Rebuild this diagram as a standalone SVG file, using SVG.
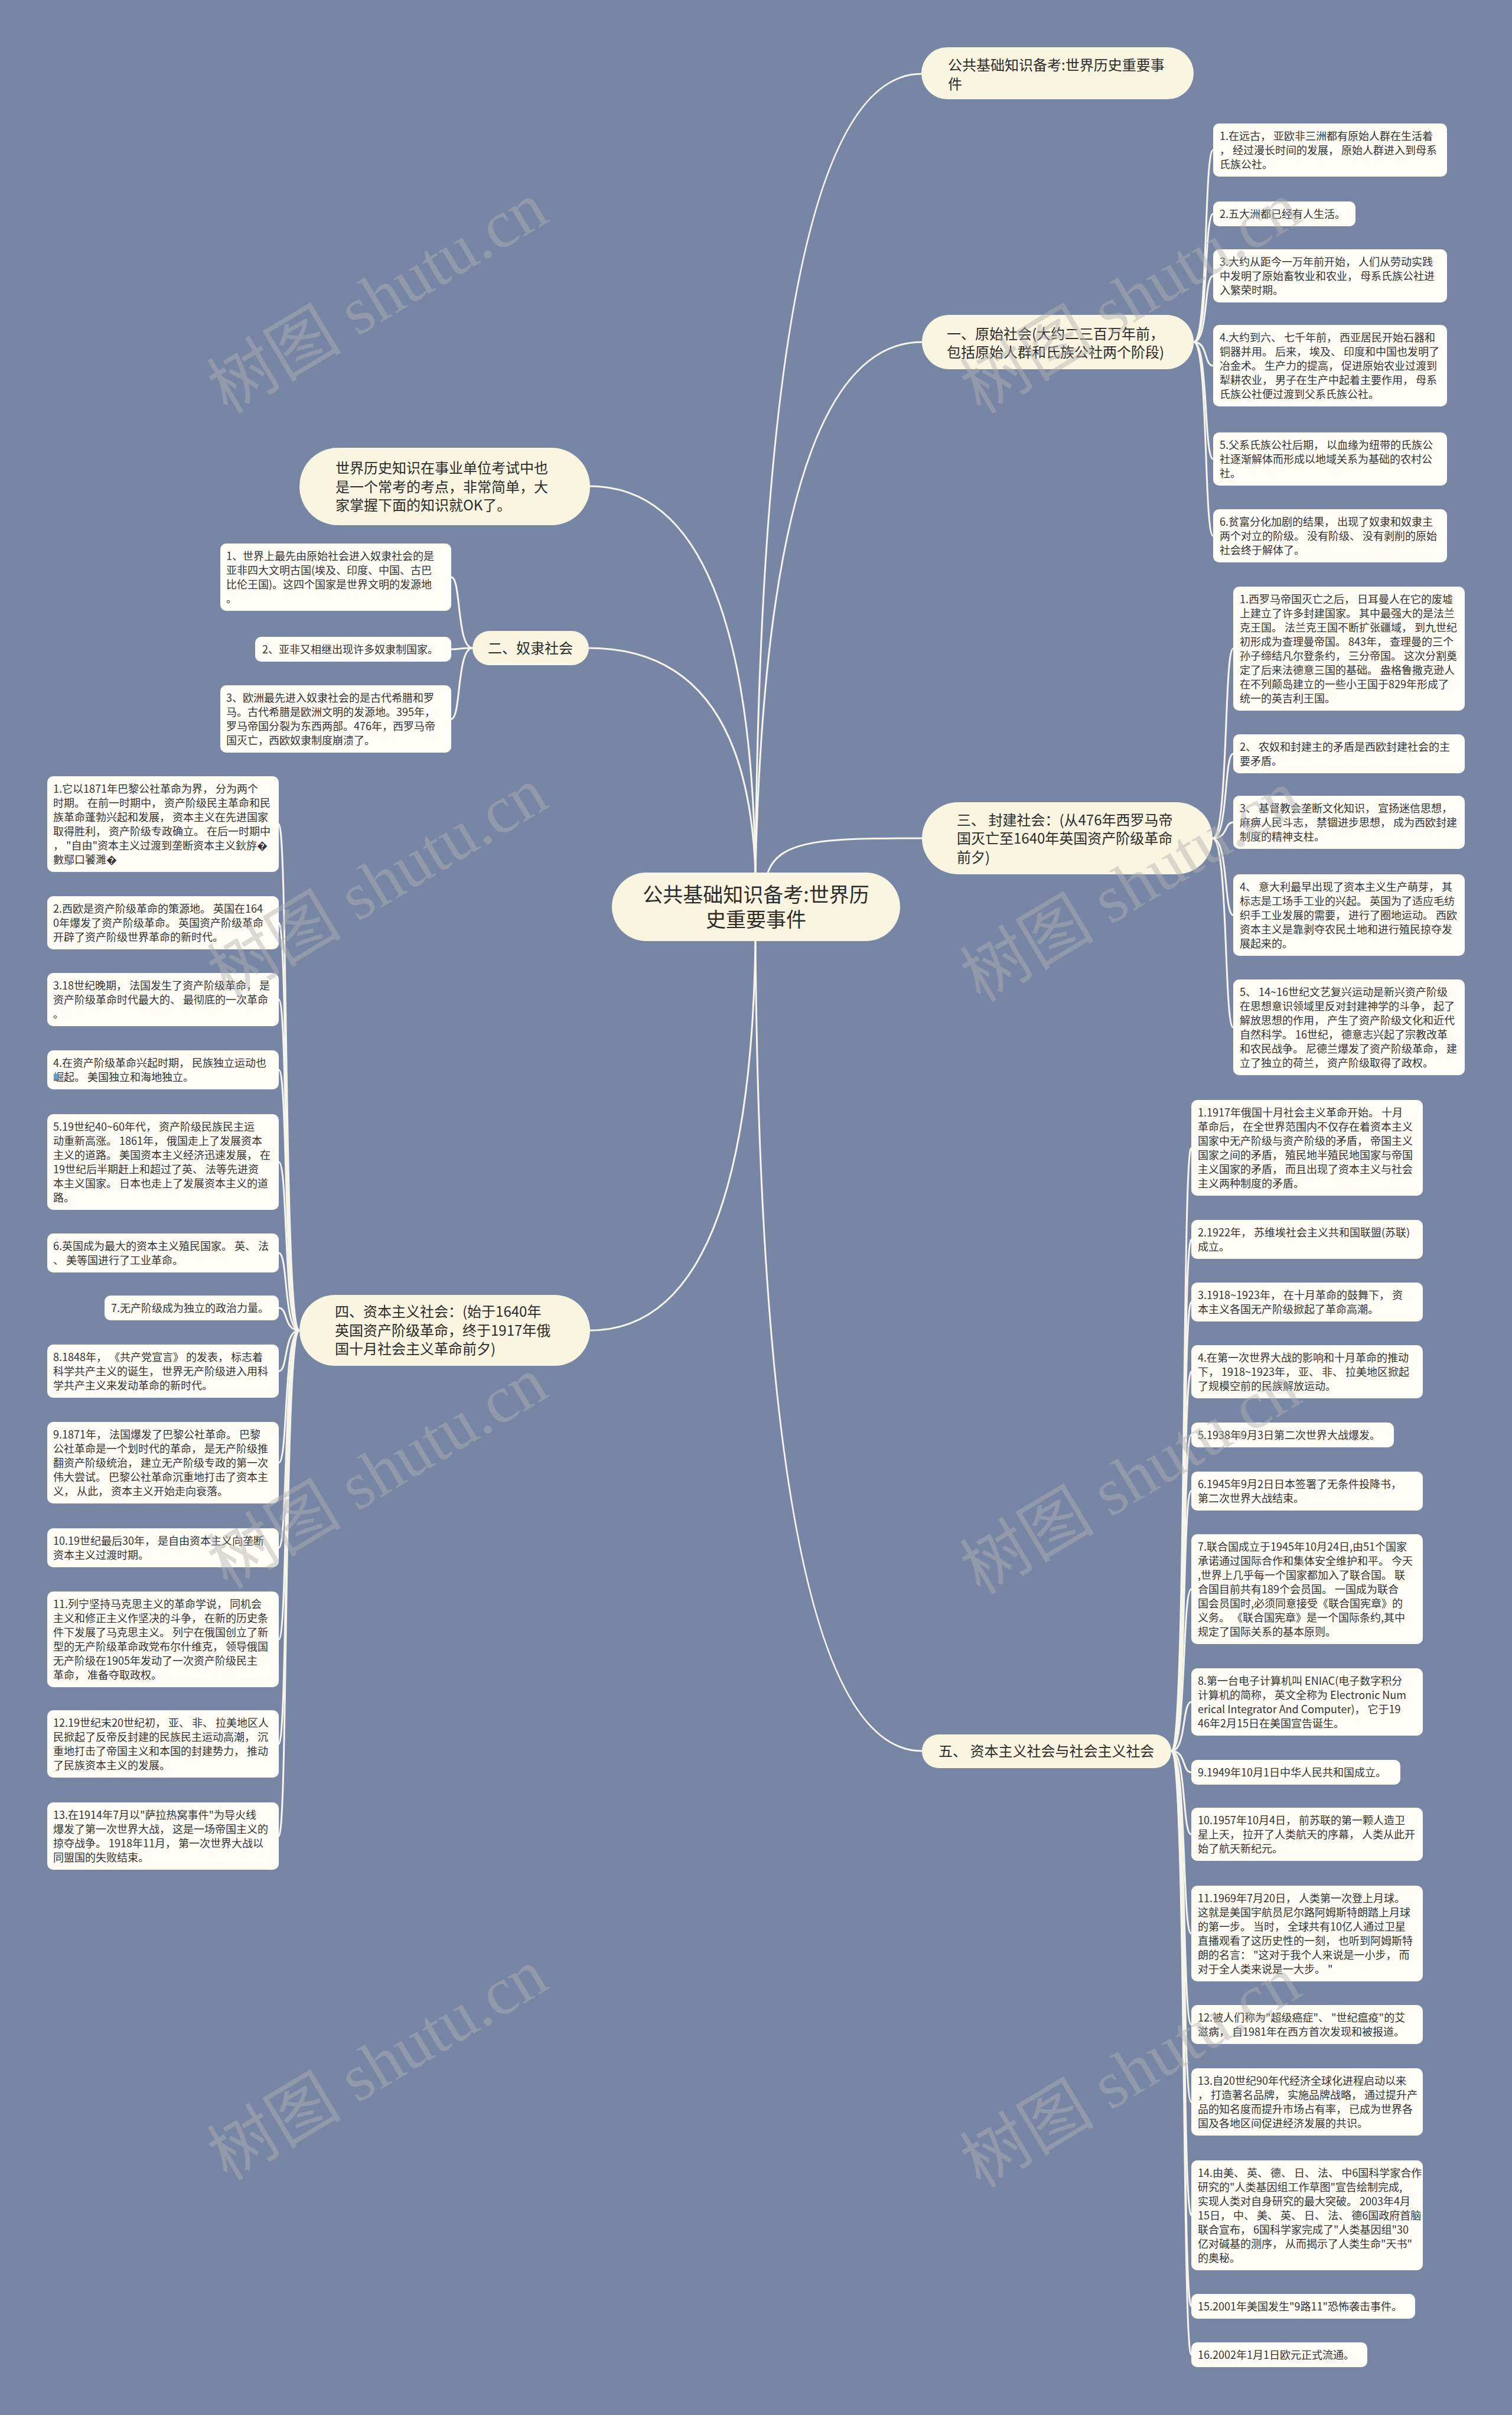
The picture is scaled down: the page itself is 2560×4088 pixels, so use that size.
<svg xmlns="http://www.w3.org/2000/svg" width="2560" height="4088" viewBox="0 0 2560 4088">
<style>
text{font-family:"Noto Sans CJK SC","Noto Sans",sans-serif;fill:#2b2b2b}
.root rect,.l1 rect{fill:#faf5e0;stroke:none}
.leaf rect{fill:#fffdf6;stroke:none}
.rt{font-size:34px}
.t1{font-size:24px}
.tl{font-size:18px;fill:#333}
.conn path{fill:none;stroke:#f7f4ea;stroke-width:3}
.wm{font-family:"Liberation Serif","Noto Sans CJK SC",serif;font-size:114px;fill:#b0b0b0;opacity:0.45}
</style>
<rect x="0" y="0" width="2560" height="4088" fill="#7886a6"/>
<g id="connectors" class="conn">
<path d="M1279 1477 Q1290 125 1560 125"/>
<path d="M1279 1477 Q1300 579 1561 579"/>
<path d="M1300 1477 C1320 1420 1400 1419 1561 1419"/>
<path d="M1279 1477 Q1270 823 999 823"/>
<path d="M1279 1477 Q1265 1097 997 1097"/>
<path d="M1279 1593 Q1270 2252 999 2252"/>
<path d="M1279 1593 Q1290 2964 1561 2964"/>
<path d="M2021 579 C2046 579 2038 254 2054 254"/>
<path d="M2021 579 C2046 579 2038 362 2054 362"/>
<path d="M2021 579 C2046 579 2038 467 2054 467"/>
<path d="M2021 579 C2046 579 2038 619 2054 619"/>
<path d="M2021 579 C2046 579 2038 777 2054 777"/>
<path d="M2021 579 C2046 579 2038 907 2054 907"/>
<path d="M2053 1419 C2080 1419 2072 1098 2088 1098"/>
<path d="M2053 1419 C2080 1419 2072 1276 2088 1276"/>
<path d="M2053 1419 C2080 1419 2072 1392 2088 1392"/>
<path d="M2053 1419 C2080 1419 2072 1549 2088 1549"/>
<path d="M2053 1419 C2080 1419 2072 1739 2088 1739"/>
<path d="M1983 2964 C2009 2964 2001 1943 2017 1943"/>
<path d="M1983 2964 C2009 2964 2001 2098 2017 2098"/>
<path d="M1983 2964 C2009 2964 2001 2204 2017 2204"/>
<path d="M1983 2964 C2009 2964 2001 2322 2017 2322"/>
<path d="M1983 2964 C2009 2964 2001 2429 2017 2429"/>
<path d="M1983 2964 C2009 2964 2001 2524 2017 2524"/>
<path d="M1983 2964 C2009 2964 2001 2690 2017 2690"/>
<path d="M1983 2964 C2009 2964 2001 2881 2017 2881"/>
<path d="M1983 2964 C2009 2964 2001 3000 2017 3000"/>
<path d="M1983 2964 C2009 2964 2001 3105 2017 3105"/>
<path d="M1983 2964 C2009 2964 2001 3273 2017 3273"/>
<path d="M1983 2964 C2009 2964 2001 3427 2017 3427"/>
<path d="M1983 2964 C2009 2964 2001 3558 2017 3558"/>
<path d="M1983 2964 C2009 2964 2001 3750 2017 3750"/>
<path d="M1983 2964 C2009 2964 2001 3904 2017 3904"/>
<path d="M1983 2964 C2009 2964 2001 3986 2017 3986"/>
<path d="M507 2252 C480 2252 488 1395 472 1395"/>
<path d="M507 2252 C480 2252 488 1562 472 1562"/>
<path d="M507 2252 C480 2252 488 1692 472 1692"/>
<path d="M507 2252 C480 2252 488 1811 472 1811"/>
<path d="M507 2252 C480 2252 488 1967 472 1967"/>
<path d="M507 2252 C480 2252 488 2121 472 2121"/>
<path d="M507 2252 C480 2252 488 2214 472 2214"/>
<path d="M507 2252 C480 2252 488 2321 472 2321"/>
<path d="M507 2252 C480 2252 488 2476 472 2476"/>
<path d="M507 2252 C480 2252 488 2620 472 2620"/>
<path d="M507 2252 C480 2252 488 2775 472 2775"/>
<path d="M507 2252 C480 2252 488 2952 472 2952"/>
<path d="M507 2252 C480 2252 488 3108 472 3108"/>
<path d="M800 1097 C773 1097 781 977 764 977"/>
<path d="M800 1097 C773 1097 781 1099 764 1099"/>
<path d="M800 1097 C773 1097 781 1217 764 1217"/>
</g>
<g id="root" class="root"><rect x="1036" y="1477" width="488" height="116" rx="58"/><text class="rt" text-anchor="middle"><tspan x="1280" y="1527">公共基础知识备考:世界历</tspan><tspan x="1280" y="1569">史重要事件</tspan></text></g>
<g id="top" class="l1"><rect x="1560" y="80" width="461" height="88" rx="44"/><text class="t1"><tspan x="1605" y="119">公共基础知识备考:世界历史重要事</tspan><tspan x="1605" y="151">件</tspan></text></g>
<g id="b1" class="l1"><rect x="1561" y="533" width="460" height="92" rx="46"/><text class="t1"><tspan x="1603" y="574">一、原始社会(大约二三百万年前，</tspan><tspan x="1603" y="605">包括原始人群和氏族公社两个阶段)</tspan></text></g>
<g id="b3" class="l1"><rect x="1561" y="1358" width="492" height="122" rx="61"/><text class="t1"><tspan x="1620" y="1397">三、 封建社会：(从476年西罗马帝</tspan><tspan x="1620" y="1428">国灭亡至1640年英国资产阶级革命</tspan><tspan x="1620" y="1460">前夕)</tspan></text></g>
<g id="b5" class="l1"><rect x="1561" y="2936" width="422" height="57" rx="28"/><text class="t1"><tspan x="1589" y="2973">五、 资本主义社会与社会主义社会</tspan></text></g>
<g id="b4" class="l1"><rect x="507" y="2192" width="492" height="120" rx="60"/><text class="t1"><tspan x="567" y="2229">四、资本主义社会：(始于1640年</tspan><tspan x="567" y="2261">英国资产阶级革命，终于1917年俄</tspan><tspan x="567" y="2292">国十月社会主义革命前夕)</tspan></text></g>
<g id="b2" class="l1"><rect x="800" y="1068" width="197" height="58" rx="29"/><text class="t1" text-anchor="middle"><tspan x="898" y="1106">二、奴隶社会</tspan></text></g>
<g id="intro" class="l1"><rect x="507" y="758" width="492" height="131" rx="65"/><text class="t1"><tspan x="568" y="801">世界历史知识在事业单位考试中也</tspan><tspan x="568" y="833">是一个常考的考点，非常简单，大</tspan><tspan x="568" y="864">家掌握下面的知识就OK了。</tspan></text></g>
<g id="b1-1" class="leaf"><rect x="2054" y="209" width="396" height="90" rx="10"/><text class="tl"><tspan x="2065" y="237">1.在远古， 亚欧非三洲都有原始人群在生活着</tspan><tspan x="2065" y="261">， 经过漫长时间的发展， 原始人群进入到母系</tspan><tspan x="2065" y="285">氏族公社。</tspan></text></g>
<g id="b1-2" class="leaf"><rect x="2054" y="341" width="241" height="42" rx="10"/><text class="tl"><tspan x="2065" y="369">2.五大洲都已经有人生活。</tspan></text></g>
<g id="b1-3" class="leaf"><rect x="2054" y="422" width="396" height="90" rx="10"/><text class="tl"><tspan x="2065" y="450">3.大约从距今一万年前开始， 人们从劳动实践</tspan><tspan x="2065" y="474">中发明了原始畜牧业和农业， 母系氏族公社进</tspan><tspan x="2065" y="498">入繁荣时期。</tspan></text></g>
<g id="b1-4" class="leaf"><rect x="2054" y="550" width="396" height="138" rx="10"/><text class="tl"><tspan x="2065" y="578">4.大约到六、 七千年前， 西亚居民开始石器和</tspan><tspan x="2065" y="602">铜器并用。 后来， 埃及、 印度和中国也发明了</tspan><tspan x="2065" y="626">冶金术。 生产力的提高， 促进原始农业过渡到</tspan><tspan x="2065" y="650">犁耕农业， 男子在生产中起着主要作用， 母系</tspan><tspan x="2065" y="674">氏族公社便过渡到父系氏族公社。</tspan></text></g>
<g id="b1-5" class="leaf"><rect x="2054" y="732" width="396" height="90" rx="10"/><text class="tl"><tspan x="2065" y="760">5.父系氏族公社后期， 以血缘为纽带的氏族公</tspan><tspan x="2065" y="784">社逐渐解体而形成以地域关系为基础的农村公</tspan><tspan x="2065" y="808">社。</tspan></text></g>
<g id="b1-6" class="leaf"><rect x="2054" y="862" width="396" height="90" rx="10"/><text class="tl"><tspan x="2065" y="890">6.贫富分化加剧的结果， 出现了奴隶和奴隶主</tspan><tspan x="2065" y="914">两个对立的阶级。 没有阶级、 没有剥削的原始</tspan><tspan x="2065" y="938">社会终于解体了。</tspan></text></g>
<g id="b3-1" class="leaf"><rect x="2088" y="993" width="392" height="210" rx="10"/><text class="tl"><tspan x="2099" y="1021">1.西罗马帝国灭亡之后， 日耳曼人在它的废墟</tspan><tspan x="2099" y="1045">上建立了许多封建国家。 其中最强大的是法兰</tspan><tspan x="2099" y="1069">克王国。 法兰克王国不断扩张疆域， 到九世纪</tspan><tspan x="2099" y="1093">初形成为查理曼帝国。 843年， 查理曼的三个</tspan><tspan x="2099" y="1117">孙子缔结凡尔登条约， 三分帝国。 这次分割奠</tspan><tspan x="2099" y="1141">定了后来法德意三国的基础。 盎格鲁撒克逊人</tspan><tspan x="2099" y="1165">在不列颠岛建立的一些小王国于829年形成了</tspan><tspan x="2099" y="1189">统一的英吉利王国。</tspan></text></g>
<g id="b3-2" class="leaf"><rect x="2088" y="1243" width="392" height="66" rx="10"/><text class="tl"><tspan x="2099" y="1271">2、 农奴和封建主的矛盾是西欧封建社会的主</tspan><tspan x="2099" y="1295">要矛盾。</tspan></text></g>
<g id="b3-3" class="leaf"><rect x="2088" y="1347" width="392" height="90" rx="10"/><text class="tl"><tspan x="2099" y="1375">3、 基督教会垄断文化知识， 宣扬迷信思想，</tspan><tspan x="2099" y="1399">麻痹人民斗志， 禁锢进步思想， 成为西欧封建</tspan><tspan x="2099" y="1423">制度的精神支柱。</tspan></text></g>
<g id="b3-4" class="leaf"><rect x="2088" y="1480" width="392" height="138" rx="10"/><text class="tl"><tspan x="2099" y="1508">4、 意大利最早出现了资本主义生产萌芽， 其</tspan><tspan x="2099" y="1532">标志是工场手工业的兴起。 英国为了适应毛纺</tspan><tspan x="2099" y="1556">织手工业发展的需要， 进行了圈地运动。 西欧</tspan><tspan x="2099" y="1580">资本主义是靠剥夺农民土地和进行殖民掠夺发</tspan><tspan x="2099" y="1604">展起来的。</tspan></text></g>
<g id="b3-5" class="leaf"><rect x="2088" y="1658" width="392" height="162" rx="10"/><text class="tl"><tspan x="2099" y="1686">5、 14~16世纪文艺复兴运动是新兴资产阶级</tspan><tspan x="2099" y="1710">在思想意识领域里反对封建神学的斗争， 起了</tspan><tspan x="2099" y="1734">解放思想的作用， 产生了资产阶级文化和近代</tspan><tspan x="2099" y="1758">自然科学。 16世纪， 德意志兴起了宗教改革</tspan><tspan x="2099" y="1782">和农民战争。 尼德兰爆发了资产阶级革命， 建</tspan><tspan x="2099" y="1806">立了独立的荷兰， 资产阶级取得了政权。</tspan></text></g>
<g id="b5-1" class="leaf"><rect x="2017" y="1862" width="392" height="162" rx="10"/><text class="tl"><tspan x="2028" y="1890">1.1917年俄国十月社会主义革命开始。 十月</tspan><tspan x="2028" y="1914">革命后， 在全世界范围内不仅存在着资本主义</tspan><tspan x="2028" y="1938">国家中无产阶级与资产阶级的矛盾， 帝国主义</tspan><tspan x="2028" y="1962">国家之间的矛盾， 殖民地半殖民地国家与帝国</tspan><tspan x="2028" y="1986">主义国家的矛盾， 而且出现了资本主义与社会</tspan><tspan x="2028" y="2010">主义两种制度的矛盾。</tspan></text></g>
<g id="b5-2" class="leaf"><rect x="2017" y="2065" width="392" height="66" rx="10"/><text class="tl"><tspan x="2028" y="2093">2.1922年， 苏维埃社会主义共和国联盟(苏联)</tspan><tspan x="2028" y="2117">成立。</tspan></text></g>
<g id="b5-3" class="leaf"><rect x="2017" y="2171" width="392" height="66" rx="10"/><text class="tl"><tspan x="2028" y="2199">3.1918~1923年， 在十月革命的鼓舞下， 资</tspan><tspan x="2028" y="2223">本主义各国无产阶级掀起了革命高潮。</tspan></text></g>
<g id="b5-4" class="leaf"><rect x="2017" y="2277" width="392" height="90" rx="10"/><text class="tl"><tspan x="2028" y="2305">4.在第一次世界大战的影响和十月革命的推动</tspan><tspan x="2028" y="2329">下， 1918~1923年， 亚、 非、 拉美地区掀起</tspan><tspan x="2028" y="2353">了规模空前的民族解放运动。</tspan></text></g>
<g id="b5-5" class="leaf"><rect x="2017" y="2408" width="343" height="42" rx="10"/><text class="tl"><tspan x="2028" y="2436">5.1938年9月3日第二次世界大战爆发。</tspan></text></g>
<g id="b5-6" class="leaf"><rect x="2017" y="2491" width="392" height="66" rx="10"/><text class="tl"><tspan x="2028" y="2519">6.1945年9月2日日本签署了无条件投降书，</tspan><tspan x="2028" y="2543">第二次世界大战结束。</tspan></text></g>
<g id="b5-7" class="leaf"><rect x="2017" y="2597" width="392" height="186" rx="10"/><text class="tl"><tspan x="2028" y="2625">7.联合国成立于1945年10月24日,由51个国家</tspan><tspan x="2028" y="2649">承诺通过国际合作和集体安全维护和平。 今天</tspan><tspan x="2028" y="2673">,世界上几乎每一个国家都加入了联合国。 联</tspan><tspan x="2028" y="2697">合国目前共有189个会员国。 一国成为联合</tspan><tspan x="2028" y="2721">国会员国时,必须同意接受《联合国宪章》的</tspan><tspan x="2028" y="2745">义务。 《联合国宪章》是一个国际条约,其中</tspan><tspan x="2028" y="2769">规定了国际关系的基本原则。</tspan></text></g>
<g id="b5-8" class="leaf"><rect x="2017" y="2824" width="392" height="114" rx="10"/><text class="tl"><tspan x="2028" y="2852">8.第一台电子计算机叫 ENIAC(电子数字积分</tspan><tspan x="2028" y="2876">计算机的简称， 英文全称为 Electronic Num</tspan><tspan x="2028" y="2900">erical Integrator And Computer)， 它于19</tspan><tspan x="2028" y="2924">46年2月15日在美国宣告诞生。</tspan></text></g>
<g id="b5-9" class="leaf"><rect x="2017" y="2979" width="354" height="42" rx="10"/><text class="tl"><tspan x="2028" y="3007">9.1949年10月1日中华人民共和国成立。</tspan></text></g>
<g id="b5-10" class="leaf"><rect x="2017" y="3060" width="392" height="90" rx="10"/><text class="tl"><tspan x="2028" y="3088">10.1957年10月4日， 前苏联的第一颗人造卫</tspan><tspan x="2028" y="3112">星上天， 拉开了人类航天的序幕， 人类从此开</tspan><tspan x="2028" y="3136">始了航天新纪元。</tspan></text></g>
<g id="b5-11" class="leaf"><rect x="2017" y="3192" width="392" height="162" rx="10"/><text class="tl"><tspan x="2028" y="3220">11.1969年7月20日， 人类第一次登上月球。</tspan><tspan x="2028" y="3244">这就是美国宇航员尼尔路阿姆斯特朗踏上月球</tspan><tspan x="2028" y="3268">的第一步。 当时， 全球共有10亿人通过卫星</tspan><tspan x="2028" y="3292">直播观看了这历史性的一刻， 也听到阿姆斯特</tspan><tspan x="2028" y="3316">朗的名言： "这对于我个人来说是一小步， 而</tspan><tspan x="2028" y="3340">对于全人类来说是一大步。 "</tspan></text></g>
<g id="b5-12" class="leaf"><rect x="2017" y="3394" width="392" height="66" rx="10"/><text class="tl"><tspan x="2028" y="3422">12.被人们称为"超级癌症"、 "世纪瘟疫"的艾</tspan><tspan x="2028" y="3446">滋病， 自1981年在西方首次发现和被报道。</tspan></text></g>
<g id="b5-13" class="leaf"><rect x="2017" y="3501" width="392" height="114" rx="10"/><text class="tl"><tspan x="2028" y="3529">13.自20世纪90年代经济全球化进程启动以来</tspan><tspan x="2028" y="3553">， 打造著名品牌， 实施品牌战略， 通过提升产</tspan><tspan x="2028" y="3577">品的知名度而提升市场占有率， 已成为世界各</tspan><tspan x="2028" y="3601">国及各地区间促进经济发展的共识。</tspan></text></g>
<g id="b5-14" class="leaf"><rect x="2017" y="3657" width="392" height="186" rx="10"/><text class="tl"><tspan x="2028" y="3685">14.由美、 英、 德、 日、 法、 中6国科学家合作</tspan><tspan x="2028" y="3709">研究的"人类基因组工作草图"宣告绘制完成,</tspan><tspan x="2028" y="3733">实现人类对自身研究的最大突破。 2003年4月</tspan><tspan x="2028" y="3757">15日， 中、 美、 英、 日、 法、 德6国政府首脑</tspan><tspan x="2028" y="3781">联合宣布， 6国科学家完成了"人类基因组"30</tspan><tspan x="2028" y="3805">亿对碱基的测序， 从而揭示了人类生命"天书"</tspan><tspan x="2028" y="3829">的奥秘。</tspan></text></g>
<g id="b5-15" class="leaf"><rect x="2017" y="3883" width="379" height="42" rx="10"/><text class="tl"><tspan x="2028" y="3911">15.2001年美国发生"9路11"恐怖袭击事件。</tspan></text></g>
<g id="b5-16" class="leaf"><rect x="2017" y="3965" width="298" height="42" rx="10"/><text class="tl"><tspan x="2028" y="3993">16.2002年1月1日欧元正式流通。</tspan></text></g>
<g id="b4-1" class="leaf"><rect x="80" y="1314" width="392" height="162" rx="10"/><text class="tl"><tspan x="90" y="1342">1.它以1871年巴黎公社革命为界， 分为两个</tspan><tspan x="90" y="1366">时期。 在前一时期中， 资产阶级民主革命和民</tspan><tspan x="90" y="1390">族革命蓬勃兴起和发展， 资本主义在先进国家</tspan><tspan x="90" y="1414">取得胜利， 资产阶级专政确立。 在后一时期中</tspan><tspan x="90" y="1438">， "自由"资本主义过渡到垄断资本主义鈥斿�</tspan><tspan x="90" y="1462">數鄢口饕濉�</tspan></text></g>
<g id="b4-2" class="leaf"><rect x="80" y="1517" width="392" height="90" rx="10"/><text class="tl"><tspan x="90" y="1545">2.西欧是资产阶级革命的策源地。 英国在164</tspan><tspan x="90" y="1569">0年爆发了资产阶级革命。 英国资产阶级革命</tspan><tspan x="90" y="1593">开辟了资产阶级世界革命的新时代。</tspan></text></g>
<g id="b4-3" class="leaf"><rect x="80" y="1647" width="392" height="90" rx="10"/><text class="tl"><tspan x="90" y="1675">3.18世纪晚期， 法国发生了资产阶级革命， 是</tspan><tspan x="90" y="1699">资产阶级革命时代最大的、 最彻底的一次革命</tspan><tspan x="90" y="1723">。</tspan></text></g>
<g id="b4-4" class="leaf"><rect x="80" y="1778" width="392" height="66" rx="10"/><text class="tl"><tspan x="90" y="1806">4.在资产阶级革命兴起时期， 民族独立运动也</tspan><tspan x="90" y="1830">崛起。 美国独立和海地独立。</tspan></text></g>
<g id="b4-5" class="leaf"><rect x="80" y="1886" width="392" height="162" rx="10"/><text class="tl"><tspan x="90" y="1914">5.19世纪40~60年代， 资产阶级民族民主运</tspan><tspan x="90" y="1938">动重新高涨。 1861年， 俄国走上了发展资本</tspan><tspan x="90" y="1962">主义的道路。 美国资本主义经济迅速发展， 在</tspan><tspan x="90" y="1986">19世纪后半期赶上和超过了英、 法等先进资</tspan><tspan x="90" y="2010">本主义国家。 日本也走上了发展资本主义的道</tspan><tspan x="90" y="2034">路。</tspan></text></g>
<g id="b4-6" class="leaf"><rect x="80" y="2088" width="392" height="66" rx="10"/><text class="tl"><tspan x="90" y="2116">6.英国成为最大的资本主义殖民国家。 英、 法</tspan><tspan x="90" y="2140">、 美等国进行了工业革命。</tspan></text></g>
<g id="b4-7" class="leaf"><rect x="177" y="2193" width="295" height="42" rx="10"/><text class="tl"><tspan x="188" y="2221">7.无产阶级成为独立的政治力量。</tspan></text></g>
<g id="b4-8" class="leaf"><rect x="80" y="2276" width="392" height="90" rx="10"/><text class="tl"><tspan x="90" y="2304">8.1848年， 《共产党宣言》 的发表， 标志着</tspan><tspan x="90" y="2328">科学共产主义的诞生， 世界无产阶级进入用科</tspan><tspan x="90" y="2352">学共产主义来发动革命的新时代。</tspan></text></g>
<g id="b4-9" class="leaf"><rect x="80" y="2407" width="392" height="138" rx="10"/><text class="tl"><tspan x="90" y="2435">9.1871年， 法国爆发了巴黎公社革命。 巴黎</tspan><tspan x="90" y="2459">公社革命是一个划时代的革命， 是无产阶级推</tspan><tspan x="90" y="2483">翻资产阶级统治， 建立无产阶级专政的第一次</tspan><tspan x="90" y="2507">伟大尝试。 巴黎公社革命沉重地打击了资本主</tspan><tspan x="90" y="2531">义， 从此， 资本主义开始走向衰落。</tspan></text></g>
<g id="b4-10" class="leaf"><rect x="80" y="2587" width="392" height="66" rx="10"/><text class="tl"><tspan x="90" y="2615">10.19世纪最后30年， 是自由资本主义向垄断</tspan><tspan x="90" y="2639">资本主义过渡时期。</tspan></text></g>
<g id="b4-11" class="leaf"><rect x="80" y="2694" width="392" height="162" rx="10"/><text class="tl"><tspan x="90" y="2722">11.列宁坚持马克思主义的革命学说， 同机会</tspan><tspan x="90" y="2746">主义和修正主义作坚决的斗争， 在新的历史条</tspan><tspan x="90" y="2770">件下发展了马克思主义。 列宁在俄国创立了新</tspan><tspan x="90" y="2794">型的无产阶级革命政党布尔什维克， 领导俄国</tspan><tspan x="90" y="2818">无产阶级在1905年发动了一次资产阶级民主</tspan><tspan x="90" y="2842">革命， 准备夺取政权。</tspan></text></g>
<g id="b4-12" class="leaf"><rect x="80" y="2895" width="392" height="114" rx="10"/><text class="tl"><tspan x="90" y="2923">12.19世纪末20世纪初， 亚、 非、 拉美地区人</tspan><tspan x="90" y="2947">民掀起了反帝反封建的民族民主运动高潮， 沉</tspan><tspan x="90" y="2971">重地打击了帝国主义和本国的封建势力， 推动</tspan><tspan x="90" y="2995">了民族资本主义的发展。</tspan></text></g>
<g id="b4-13" class="leaf"><rect x="80" y="3051" width="392" height="114" rx="10"/><text class="tl"><tspan x="90" y="3079">13.在1914年7月以"萨拉热窝事件"为导火线</tspan><tspan x="90" y="3103">爆发了第一次世界大战， 这是一场帝国主义的</tspan><tspan x="90" y="3127">掠夺战争。 1918年11月， 第一次世界大战以</tspan><tspan x="90" y="3151">同盟国的失败结束。</tspan></text></g>
<g id="b2-1" class="leaf"><rect x="373" y="920" width="391" height="114" rx="10"/><text class="tl"><tspan x="383" y="948">1、世界上最先由原始社会进入奴隶社会的是</tspan><tspan x="383" y="972">亚非四大文明古国(埃及、印度、中国、古巴</tspan><tspan x="383" y="996">比伦王国)。这四个国家是世界文明的发源地</tspan><tspan x="383" y="1020">。</tspan></text></g>
<g id="b2-2" class="leaf"><rect x="432" y="1078" width="332" height="42" rx="10"/><text class="tl"><tspan x="444" y="1106">2、亚非又相继出现许多奴隶制国家。</tspan></text></g>
<g id="b2-3" class="leaf"><rect x="373" y="1160" width="391" height="114" rx="10"/><text class="tl"><tspan x="383" y="1188">3、欧洲最先进入奴隶社会的是古代希腊和罗</tspan><tspan x="383" y="1212">马。古代希腊是欧洲文明的发源地。395年，</tspan><tspan x="383" y="1236">罗马帝国分裂为东西两部。476年，西罗马帝</tspan><tspan x="383" y="1260">国灭亡，西欧奴隶制度崩溃了。</tspan></text></g>
<g id="watermarks">
<text class="wm" transform="translate(385 702) rotate(-31)">树图 shutu.cn</text>
<text class="wm" transform="translate(1660 702) rotate(-31)">树图 shutu.cn</text>
<text class="wm" transform="translate(385 1693) rotate(-31)">树图 shutu.cn</text>
<text class="wm" transform="translate(1660 1698) rotate(-31)">树图 shutu.cn</text>
<text class="wm" transform="translate(385 2691) rotate(-31)">树图 shutu.cn</text>
<text class="wm" transform="translate(1660 2701) rotate(-31)">树图 shutu.cn</text>
<text class="wm" transform="translate(385 3693) rotate(-31)">树图 shutu.cn</text>
<text class="wm" transform="translate(1660 3705) rotate(-31)">树图 shutu.cn</text>
</g>
</svg>
